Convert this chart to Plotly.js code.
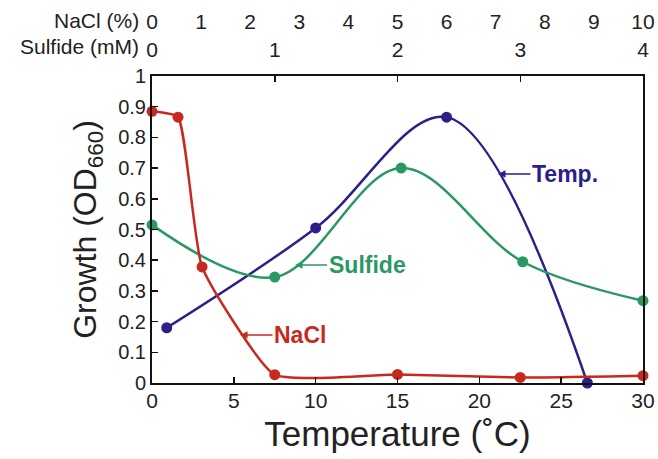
<!DOCTYPE html>
<html>
<head>
<meta charset="utf-8">
<script src="https://cdn.plot.ly/plotly-3.0.1.min.js"></script>
<style>html,body{margin:0;padding:0;background:#fff;}#chart{width:658px;height:459px;}</style>
</head>
<body>
<div id="chart"></div>
<script>
// Temperature series (bottom axis, °C)
const tempX = [0.9, 10, 18, 26.6];
const tempY = [0.18, 0.505, 0.866, 0.0];
// NaCl series (top axis, %)
const naclX = [0, 0.53, 1.02, 2.5, 5, 7.5, 10];
const naclY = [0.885, 0.866, 0.378, 0.027, 0.028, 0.018, 0.024];
// Sulfide series (top axis, mM)
const sulfX = [0, 1, 2.03, 3.02, 4];
const sulfY = [0.515, 0.345, 0.70, 0.395, 0.268];

const tempTicks = [0, 5, 10, 15, 20, 25, 30];
const naclTicks = [0, 1, 2, 3, 4, 5, 6, 7, 8, 9, 10];
const sulfTicks = [0, 1, 2, 3, 4];
const yTicks = [0, 0.1, 0.2, 0.3, 0.4, 0.5, 0.6, 0.7, 0.8, 0.9, 1];
const yTickText = ['0', '0.1', '0.2', '0.3', '0.4', '0.5', '0.6', '0.7', '0.8', '0.9', '1'];

const RED = '#c8291f', BLUE = '#2c1f8a', GREEN = '#2a9863';
const FONT = '"Liberation Sans", Arial, sans-serif';
const TXT = '#222';

function series(x, y, color, xa, sm) {
  return {x: x, y: y, xaxis: xa, yaxis: 'y', type: 'scatter', mode: 'lines+markers',
    line: {shape: 'spline', smoothing: sm, color: color, width: 2.5},
    marker: {size: 11, color: color}, cliponaxis: false, hoverinfo: 'skip', showlegend: false};
}

const data = [
  series(naclX, naclY, RED, 'x3', 0.45),
  series(sulfX, sulfY, GREEN, 'x2', 1),
  series(tempX, tempY, BLUE, 'x', 1)
];

const axBase = {showgrid: false, zeroline: false, showline: true, linecolor: '#111', linewidth: 2,
  ticks: 'inside', ticklen: 6, tickwidth: 1.5, tickcolor: '#111',
  tickfont: {family: FONT, size: 21, color: TXT}, fixedrange: true};

const layout = {
  width: 658, height: 459,
  margin: {l: 152, r: 15, t: 76, b: 76},
  paper_bgcolor: '#fff', plot_bgcolor: '#fff',
  font: {family: FONT, color: TXT},
  xaxis: Object.assign({}, axBase, {range: [0, 30], tickvals: tempTicks, ticktext: tempTicks.map(String),
    ticklabelstandoff: -2,
    title: {text: 'Temperature (˚C)', font: {family: FONT, size: 35, color: TXT}, standoff: 10}}),
  xaxis2: Object.assign({}, axBase, {overlaying: 'x', side: 'top', anchor: 'y', range: [0, 4],
    tickvals: sulfTicks, ticktext: sulfTicks.map(String), ticklabelstandoff: 9}),
  xaxis3: Object.assign({}, axBase, {overlaying: 'x', side: 'top', anchor: 'y', range: [0, 10],
    showline: false, ticks: '', tickvals: naclTicks, ticktext: naclTicks.map(String),
    ticklabelstandoff: 42}),
  yaxis: Object.assign({}, axBase, {range: [0, 1], tickvals: yTicks, ticktext: yTickText, mirror: true,
    tickfont: {family: FONT, size: 20, color: TXT},
    title: {text: 'Growth (OD<sub>660</sub>)', font: {family: FONT, size: 32, color: TXT}, standoff: 12}}),
  annotations: [
    {xref: 'paper', yref: 'paper', x: -0.022, y: 1.18, xanchor: 'right', yanchor: 'middle', showarrow: false,
      text: 'NaCl (%)', font: {family: FONT, size: 21, color: TXT}},
    {xref: 'paper', yref: 'paper', x: -0.022, y: 1.097, xanchor: 'right', yanchor: 'middle', showarrow: false,
      text: 'Sulfide (mM)', font: {family: FONT, size: 21, color: TXT}},
    {x: 21.14, y: 0.681, xref: 'x', yref: 'y', ax: 67, ay: 0, text: '<b>Temp.</b>', showarrow: true,
      arrowhead: 2, arrowsize: 1, arrowwidth: 1.5, arrowcolor: BLUE, standoff: 0,
      font: {family: FONT, size: 23, color: BLUE}},
    {x: 8.74, y: 0.384, xref: 'x', yref: 'y', ax: 72, ay: 0, text: '<b>Sulfide</b>', showarrow: true,
      arrowhead: 2, arrowsize: 1, arrowwidth: 1.5, arrowcolor: GREEN, standoff: 0,
      font: {family: FONT, size: 23, color: GREEN}},
    {x: 5.38, y: 0.156, xref: 'x', yref: 'y', ax: 60, ay: 0, text: '<b>NaCl</b>', showarrow: true,
      arrowhead: 2, arrowsize: 1, arrowwidth: 1.5, arrowcolor: RED, standoff: 0,
      font: {family: FONT, size: 23, color: RED}}
  ]
};

Plotly.newPlot('chart', data, layout, {displayModeBar: false, staticPlot: true});
</script>
</body>
</html>
